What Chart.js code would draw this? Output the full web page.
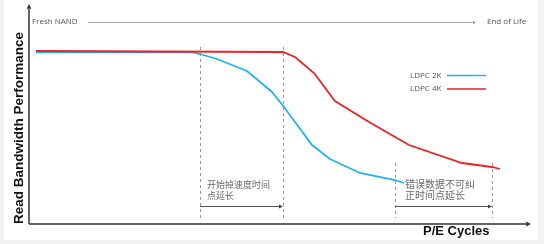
<!DOCTYPE html>
<html>
<head>
<meta charset="utf-8">
<script src="https://cdn.jsdelivr.net/npm/chart.js@4/dist/chart.umd.min.js"></script>
<style>
  html, body { margin: 0; padding: 0; background: #f2f2f2; }
  canvas { display: block; }
</style>
</head>
<body>
<canvas id="c" width="544" height="244"></canvas>
<script>
// ---- data (arbitrary units: x = P/E cycle progress, y = read bandwidth) ----
const seriesNames = ["LDPC 2K", "LDPC 4K"];
const ldpc2kX = [1.4, 32.8, 34.2, 37.6, 43.6, 48.6, 51.0, 53.2, 56.6, 60.2, 66.2, 73.2, 75.0];
const ldpc2kY = [85.8, 85.8, 85.0, 82.5, 76.5, 66.0, 58.5, 51.0, 39.5, 32.5, 25.5, 22.0, 20.5];
const ldpc4kX = [1.4, 50.8, 53.2, 57.0, 61.2, 68.0, 76.0, 86.6, 92.6, 94.2];
const ldpc4kY = [86.5, 86.0, 83.5, 75.5, 61.5, 51.0, 39.5, 30.5, 28.5, 27.5];
// dashed marker lines (x value, top y value)
const markerX = [34.2, 50.8, 73.2, 92.6];
const markerTop = [88.5, 88.5, 30.5, 30.5];
const topLabels = ["Fresh NAND", "End of Life"];
const yTitle = "Read Bandwidth Performance";
const xTitle = "P/E Cycles";
const note1 = ["开始掉速度时间", "点延长"];
const note2 = ["错误数据不可纠", "正时间点延长"];

const toPts = (xs, ys) => xs.map((x, i) => ({x: x, y: ys[i]}));

function arrowHead(ctx, x, y, dir, size) {
  ctx.beginPath();
  if (dir === 'right') { ctx.moveTo(x, y); ctx.lineTo(x - size * 1.6, y - size * 0.8); ctx.lineTo(x - size * 1.6, y + size * 0.8); }
  else if (dir === 'up') { ctx.moveTo(x, y); ctx.lineTo(x - size * 0.8, y + size * 1.6); ctx.lineTo(x + size * 0.8, y + size * 1.6); }
  ctx.closePath();
  ctx.fill();
}

const decor = {
  id: 'decor',
  beforeDraw(chart) {
    const ctx = chart.ctx;
    ctx.save();
    ctx.fillStyle = '#f2f2f2';
    ctx.fillRect(0, 0, chart.width, chart.height);
    ctx.fillStyle = '#ffffff';
    ctx.fillRect(4, 0, 534, 240);
    ctx.restore();
  },
  beforeDatasetsDraw(chart) {
    const ctx = chart.ctx, xs = chart.scales.x, ys = chart.scales.y;
    ctx.save();
    // dashed markers
    ctx.strokeStyle = '#9a9a9a';
    ctx.lineWidth = 1;
    ctx.setLineDash([3, 3]);
    const bottom = ys.getPixelForValue(3);
    markerX.forEach((mx, i) => {
      const px = Math.round(xs.getPixelForValue(mx)) + 0.5;
      ctx.beginPath();
      ctx.moveTo(px, ys.getPixelForValue(markerTop[i]));
      ctx.lineTo(px, bottom);
      ctx.stroke();
    });
    ctx.setLineDash([]);
    // range arrows
    const ay = Math.round(ys.getPixelForValue(9)) + 0.5;
    ctx.strokeStyle = '#555';
    ctx.fillStyle = '#444';
    [[0, 1], [2, 3]].forEach(([a, b]) => {
      const x1 = xs.getPixelForValue(markerX[a]), x2 = xs.getPixelForValue(markerX[b]);
      ctx.beginPath(); ctx.moveTo(x1, ay); ctx.lineTo(x2 - 2, ay); ctx.stroke();
      arrowHead(ctx, x2, ay, 'right', 2.5);
    });
    // notes
    ctx.fillStyle = '#6a6a6a';
    ctx.font = '9px "Noto Sans CJK SC"';
    ctx.textBaseline = 'middle';
    ctx.textAlign = 'left';
    const n1x = xs.getPixelForValue(markerX[0]) + 7;
    ctx.fillText(note1[0], n1x, 185);
    ctx.fillText(note1[1], n1x, 196);
    ctx.font = '10px "Noto Sans CJK SC"';
    const n2x = xs.getPixelForValue(markerX[2]) + 10;
    ctx.fillText(note2[0], n2x, 184);
    ctx.fillText(note2[1], n2x, 195);
    ctx.restore();
  },
  afterDraw(chart) {
    const ctx = chart.ctx, a = chart.chartArea;
    ctx.save();
    // axes
    ctx.strokeStyle = '#333';
    ctx.fillStyle = '#333';
    ctx.lineWidth = 1.5;
    ctx.beginPath();
    ctx.moveTo(a.left, a.bottom); ctx.lineTo(a.left, 9);
    ctx.stroke();
    arrowHead(ctx, a.left, 4, 'up', 3);
    ctx.beginPath();
    ctx.moveTo(a.left, a.bottom); ctx.lineTo(526, a.bottom);
    ctx.stroke();
    arrowHead(ctx, 531, a.bottom, 'right', 3);
    // fresh / end-of-life line
    ctx.lineWidth = 1;
    ctx.strokeStyle = '#a8a8a8';
    ctx.fillStyle = '#888';
    ctx.beginPath(); ctx.moveTo(88, 22.5); ctx.lineTo(472, 22.5); ctx.stroke();
    arrowHead(ctx, 476, 22.5, 'right', 2);
    ctx.fillStyle = '#555';
    ctx.font = '8px "Open Sans"';
    ctx.textBaseline = 'middle';
    ctx.textAlign = 'left';
    ctx.fillText(topLabels[0], 32, 22);
    ctx.fillText(topLabels[1], 487, 22);
    // legend
    const ds = chart.data.datasets;
    ctx.font = '8px "Open Sans"';
    ds.forEach((d, i) => {
      const y = 75.5 + i * 13.5;
      ctx.fillStyle = '#555';
      ctx.fillText(d.label, 410, y);
      ctx.strokeStyle = d.borderColor;
      ctx.lineWidth = 1.6;
      ctx.beginPath(); ctx.moveTo(447, y); ctx.lineTo(486, y); ctx.stroke();
    });
    // axis titles
    ctx.fillStyle = '#111';
    ctx.font = 'bold 13px "Liberation Sans"';
    ctx.textAlign = 'left';
    ctx.fillText(xTitle, 423, 231);
    ctx.save();
    ctx.translate(19, 128);
    ctx.rotate(-Math.PI / 2);
    ctx.textAlign = 'center';
    ctx.font = 'bold 13.5px "Liberation Sans"';
    ctx.fillText(yTitle, 0, 0);
    ctx.restore();
    ctx.restore();
  }
};

new Chart(document.getElementById('c'), {
  type: 'line',
  data: {
    datasets: [
      { label: seriesNames[0], data: toPts(ldpc2kX, ldpc2kY), borderColor: '#22b4ee', borderWidth: 1.8, pointRadius: 0, tension: 0, order: 1 },
      { label: seriesNames[1], data: toPts(ldpc4kX, ldpc4kY), borderColor: '#ee2124', borderWidth: 1.8, pointRadius: 0, tension: 0, order: 0 }
    ]
  },
  options: {
    responsive: false,
    devicePixelRatio: 1,
    animation: false,
    layout: { padding: { left: 29, right: 15, top: 24, bottom: 20 } },
    scales: {
      x: { type: 'linear', min: 0, max: 100, display: false },
      y: { type: 'linear', min: 0, max: 100, display: false }
    },
    plugins: { legend: { display: false }, tooltip: { enabled: false } }
  },
  plugins: [decor]
});
</script>
</body>
</html>
